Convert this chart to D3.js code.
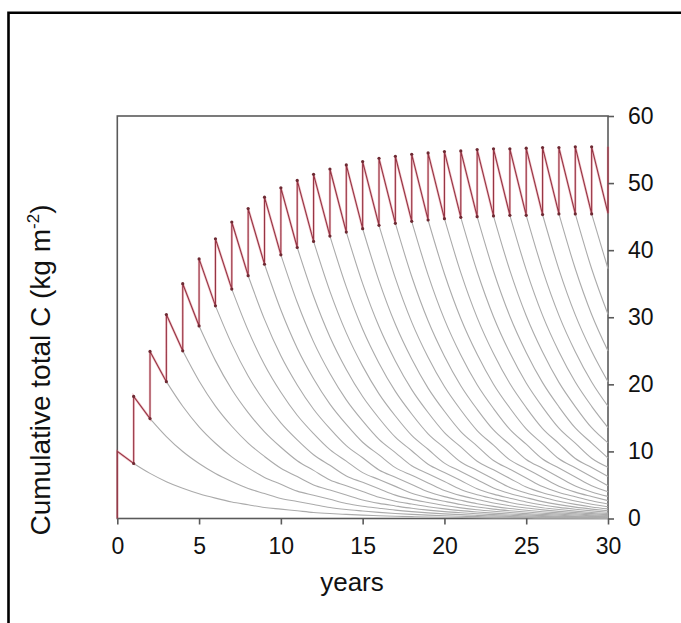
<!DOCTYPE html>
<html>
<head>
<meta charset="utf-8">
<script src="https://cdn.jsdelivr.net/npm/d3@7"></script>
<style>
  html, body { margin: 0; padding: 0; background: #fff; }
  svg { display: block; }
  text { font-family: "Liberation Sans", Arial, sans-serif; fill: #111; }
</style>
</head>
<body>
<svg id="chart" width="681" height="623"></svg>
<script>
// ---- data ----
const years = d3.range(0, 31);                 // 0..30
// total C just after each annual input (peaks), years 0..30
const peaks = [10.0, 18.2, 24.9, 30.4, 35.0, 38.7, 41.7, 44.2, 46.2, 47.9,
               49.3, 50.4, 51.3, 52.1, 52.7, 53.2, 53.7, 54.0, 54.3, 54.5,
               54.7, 54.8, 55.0, 55.1, 55.1, 55.2, 55.3, 55.3, 55.4, 55.4, 55.4];
// total C just before each annual input (troughs), years 1..30
const troughs = [8.2, 14.9, 20.4, 25.0, 28.7, 31.7, 34.2, 36.2, 37.9, 39.3,
                 40.4, 41.3, 42.1, 42.7, 43.2, 43.7, 44.0, 44.3, 44.5, 44.7,
                 44.9, 45.0, 45.1, 45.2, 45.2, 45.3, 45.4, 45.4, 45.4, 45.5];
// fraction remaining after k years
const remaining = [1, 0.82, 0.67, 0.55, 0.45, 0.37, 0.30, 0.25, 0.20, 0.17,
                   0.14, 0.11, 0.09, 0.075, 0.061, 0.050, 0.041, 0.034, 0.028, 0.023,
                   0.019, 0.015, 0.012, 0.010, 0.008, 0.007, 0.006, 0.005, 0.004, 0.003];
const xTicks = [0, 5, 10, 15, 20, 25, 30];
const yTicks = [0, 10, 20, 30, 40, 50, 60];

// ---- layout ----
const svg = d3.select("#chart");
const x = d3.scaleLinear().domain([0, 30]).range([117.3, 608]);
const y = d3.scaleLinear().domain([0, 60]).range([518.5, 116]);

// outer frame (open to right/bottom)
svg.append("path")
  .attr("d", `M8.5,623 L8.5,12.8 L681,12.8`)
  .attr("fill", "none").attr("stroke", "#000").attr("stroke-width", 2.6);

// plot box
svg.append("rect")
  .attr("x", x(0)).attr("y", y(60))
  .attr("width", x(30) - x(0)).attr("height", y(0) - y(60))
  .attr("fill", "none").attr("stroke", "#5a5a5a").attr("stroke-width", 1.6);

// ---- grey decay curves (one per cohort sum, starting at each trough) ----
const line = d3.line().x(d => x(d[0])).y(d => y(d[1])).curve(d3.curveMonotoneX);
const grey = svg.append("g");
troughs.forEach((v, i) => {
  const start = i + 1;
  if (start >= 30) return;
  const pts = d3.range(0, 30 - start + 1).map(k => [start + k, v * remaining[k]]);
  grey.append("path").attr("d", line(pts))
    .attr("fill", "none").attr("stroke", "#ababab").attr("stroke-width", 1.1);
});

// ---- red sawtooth ----
const saw = [[0, 0], [0, peaks[0]]];
for (let t = 1; t <= 30; t++) {
  saw.push([t, troughs[t - 1]]);
  saw.push([t, peaks[t]]);
}
const sawLine = d3.line().x(d => x(d[0])).y(d => y(d[1]));
svg.append("path").attr("d", sawLine(saw))
  .attr("fill", "none").attr("stroke", "#e07a85").attr("stroke-width", 2.4).attr("opacity", 0.45);
svg.append("path").attr("d", sawLine(saw))
  .attr("fill", "none").attr("stroke", "#963444").attr("stroke-width", 1.1);

// dots at peaks (years 0..29) and troughs
const dots = [];
for (let t = 1; t < 30; t++) dots.push([t, peaks[t]]);
for (let t = 1; t < 30; t++) dots.push([t, troughs[t - 1]]);
svg.append("g").selectAll("circle").data(dots).join("circle")
  .attr("cx", d => x(d[0])).attr("cy", d => y(d[1])).attr("r", 1.6)
  .attr("fill", "#6e2a33");

// ---- axes ----
const xAxis = svg.append("g").attr("transform", `translate(0,${y(0)})`)
  .call(d3.axisBottom(x).tickValues(xTicks).tickSize(6).tickPadding(13));
const yAxis = svg.append("g").attr("transform", `translate(${x(30)},0)`)
  .call(d3.axisRight(y).tickValues(yTicks).tickSize(6).tickPadding(14));
[xAxis, yAxis].forEach(g => {
  g.select(".domain").remove();
  g.selectAll("line").attr("stroke", "#5a5a5a").attr("stroke-width", 1.6);
  g.selectAll("text").style("font-family", "'Liberation Sans', Arial, sans-serif")
    .style("font-size", "23px").attr("fill", "#222");
});

// axis titles
svg.append("text").attr("x", 352).attr("y", 591).attr("text-anchor", "middle")
  .style("font-size", "26px").text("years");

const yl = svg.append("text")
  .attr("transform", `translate(50,370) rotate(-90)`)
  .attr("text-anchor", "middle").style("font-size", "28px");
yl.append("tspan").text("Cumulative total C (kg m");
yl.append("tspan").attr("dy", -11).style("font-size", "17px").text("-2");
yl.append("tspan").attr("dy", 11).text(")");
</script>
</body>
</html>
